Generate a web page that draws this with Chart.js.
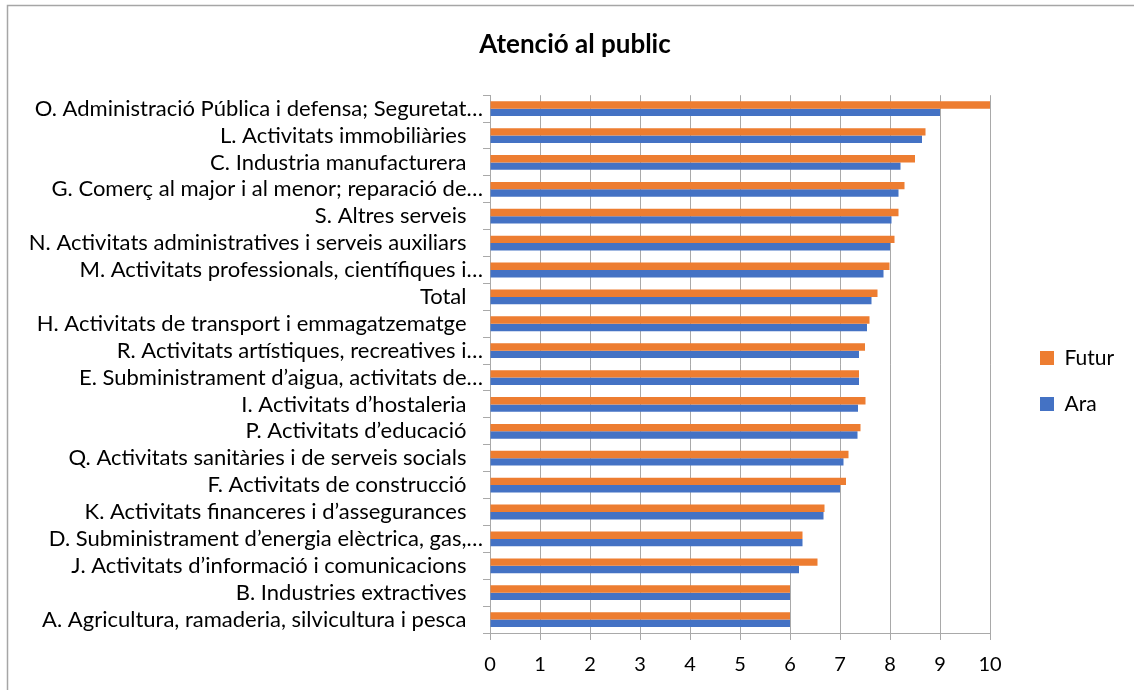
<!DOCTYPE html>
<html>
<head>
<meta charset="utf-8">
<title>Atenció al public</title>
<script src="https://cdn.jsdelivr.net/npm/chart.js@4/dist/chart.umd.min.js"></script>
<style>
    html, body { margin: 0; padding: 0; background: #fff; }
    #wrap { width: 1134px; height: 690px; }
</style>
</head>
<body>
<div id="wrap"><canvas id="myChart" width="1134" height="690"></canvas></div>
<script>
const categories = [
    'O. Administració Pública i defensa; Seguretat…',
    'L. Activitats immobiliàries',
    'C. Industria manufacturera',
    'G. Comerç al major i al menor; reparació de…',
    'S. Altres serveis',
    'N. Activitats administratives i serveis auxiliars',
    'M. Activitats professionals, científiques i…',
    'Total',
    'H. Activitats de transport i emmagatzematge',
    'R. Activitats artístiques, recreatives i…',
    'E. Subministrament d’aigua, activitats de…',
    'I. Activitats d’hostaleria',
    'P. Activitats d’educació',
    'Q. Activitats sanitàries i de serveis socials',
    'F. Activitats de construcció',
    'K. Activitats financeres i d’assegurances',
    'D. Subministrament d’energia elèctrica, gas,…',
    'J. Activitats d’informació i comunicacions',
    'B. Industries extractives',
    'A. Agricultura, ramaderia, silvicultura i pesca'
];

const futurValues = [10, 8.71, 8.5, 8.29, 8.17, 8.09, 7.99, 7.75, 7.59, 7.5, 7.38, 7.51, 7.41, 7.17, 7.12, 6.69, 6.25, 6.55, 6.0, 6.0];
const araValues = [9.0, 8.64, 8.21, 8.17, 8.03, 8.0, 7.87, 7.63, 7.54, 7.38, 7.38, 7.36, 7.35, 7.07, 7.0, 6.67, 6.25, 6.18, 6.0, 6.0];

const xTicks = [0, 1, 2, 3, 4, 5, 6, 7, 8, 9, 10];

const FONT = "Lato, 'Open Sans', sans-serif";
const gridGray = '#a9a9a9';

// white background and the grey frame of the chart object
const framePlugin = {
    id: 'frame',
    beforeDraw: function(chart) {
        var ctx = chart.ctx;
        ctx.save();
        ctx.fillStyle = '#fff';
        ctx.fillRect(0, 0, chart.width, chart.height);
        ctx.strokeStyle = '#a6a6a6';
        ctx.lineWidth = 1.5;
        ctx.strokeRect(7.5, 5.5, 2000, 2000);
        ctx.restore();
    }
};

// give the legend a fixed column on the right, items shifted like Excel does
const legendPlacer = {
    id: 'legendPlacer',
    afterInit: function(chart) {
        var legend = chart.legend;
        if (!legend) return;
        var origFit = legend.fit;
        legend.fit = function() {
            origFit.call(this);
            this.width = 144;
        };
        var origDraw = legend.draw;
        legend.draw = function() {
            var ctx = this.ctx;
            ctx.save();
            ctx.translate(25, 36);
            origDraw.apply(this, arguments);
            ctx.restore();
        };
    }
};

const ctx = document.getElementById('myChart').getContext('2d');
const myChart = new Chart(ctx, {
    type: 'bar',
    data: {
        labels: categories,
        datasets: [
            {
                label: 'Futur',
                data: futurValues,
                backgroundColor: '#ED7D31',
                borderWidth: 0
            },
            {
                label: 'Ara',
                data: araValues,
                backgroundColor: '#4472C4',
                borderWidth: 0
            }
        ]
    },
    options: {
        indexAxis: 'y',
        responsive: false,
        animation: false,
        devicePixelRatio: 1,
        categoryPercentage: 0.55,
        barPercentage: 1,
        layout: {
            padding: { left: 16, right: 0, top: 0, bottom: 0 }
        },
        scales: {
            x: {
                min: 0,
                max: 10,
                afterBuildTicks: function(scale) {
                    scale.ticks = xTicks.map(function(v) { return { value: v }; });
                },
                grid: {
                    color: gridGray,
                    lineWidth: 1,
                    tickLength: 7,
                    drawTicks: true
                },
                border: { display: true, color: gridGray, width: 1 },
                ticks: {
                    color: '#000',
                    padding: 13,
                    font: { family: FONT, size: 20 }
                }
            },
            y: {
                offset: true,
                afterFit: function(scale) {
                    scale.width = 474;
                },
                grid: {
                    offset: true,
                    drawOnChartArea: false,
                    drawTicks: true,
                    tickLength: 7,
                    color: gridGray
                },
                border: { display: true, color: gridGray, width: 1 },
                ticks: {
                    color: '#000',
                    padding: 0,
                    autoSkip: false,
                    font: { family: FONT, size: 22 },
                    callback: function(value) {
                        var label = this.getLabelForValue(value);
                        // Excel leaves a gap after the full labels, not after cut ones
                        return label.endsWith('…') ? label : label + '\u2002\u2005';
                    }
                }
            }
        },
        plugins: {
            title: {
                display: true,
                text: 'Atenció al public',
                color: '#000',
                font: { family: FONT, size: 26, weight: 'bold' },
                padding: { top: 29, bottom: 35 }
            },
            legend: {
                position: 'right',
                align: 'center',
                labels: {
                    color: '#000',
                    boxWidth: 14,
                    boxHeight: 14,
                    padding: 25,
                    font: { family: FONT, size: 21 }
                }
            },
            tooltip: { enabled: false }
        }
    },
    plugins: [framePlugin, legendPlacer]
});
</script>
</body>
</html>
